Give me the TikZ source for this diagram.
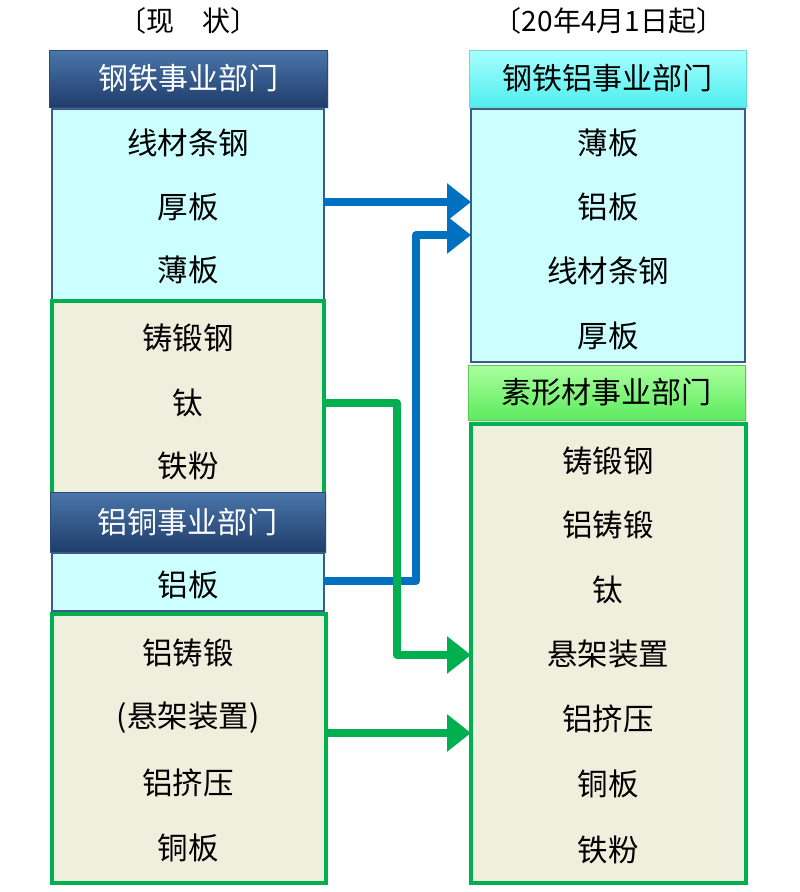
\documentclass[tikz,border=0pt]{standalone}
\usepackage{fontspec}
\setmainfont{Noto Sans CJK SC}
\usetikzlibrary{arrows.meta,shadows}
\definecolor{navytop}{HTML}{4A76AA}
\definecolor{navybot}{HTML}{1F3D6B}
\definecolor{navyline}{HTML}{2A4A78}
\definecolor{boxblue}{HTML}{CCFFFF}
\definecolor{boxblueline}{HTML}{3B5B8C}
\definecolor{beige}{HTML}{EEEFDC}
\definecolor{grn}{HTML}{00B050}
\definecolor{arrblue}{HTML}{0070C0}
\definecolor{cyantop}{HTML}{A8FFFF}
\definecolor{cyanbot}{HTML}{50EEEE}
\definecolor{cyanline}{HTML}{70D8D8}
\definecolor{gtop}{HTML}{AAFF9E}
\definecolor{gbot}{HTML}{5EEA5E}
\definecolor{gline}{HTML}{5CC85C}
\begin{document}
\begin{tikzpicture}[x=1pt,y=-1pt,
  every node/.style={inner sep=0pt, outer sep=0pt},
  txt/.style={font=\fontsize{30.5}{33}\selectfont, text=black},
  ttl/.style={font=\fontsize{28}{31}\selectfont, text=black},
  hdrnavy/.style={rectangle, draw=navyline, line width=1pt, top color=navytop, bottom color=navybot,
     text=white, font=\fontsize{30}{33}\selectfont,
     drop shadow={opacity=0.25, shadow xshift=2pt, shadow yshift=-2pt}},
  hdrcyan/.style={rectangle, draw=cyanline, line width=1pt, top color=cyantop, bottom color=cyanbot,
     text=black, font=\fontsize{30}{33}\selectfont,
     drop shadow={opacity=0.2, shadow xshift=2pt, shadow yshift=-2pt}},
  hdrgreen/.style={rectangle, draw=gline, line width=1pt, top color=gtop, bottom color=gbot,
     text=black, font=\fontsize{30}{33}\selectfont,
     drop shadow={opacity=0.2, shadow xshift=2pt, shadow yshift=-2pt}},
  bluebox/.style={rectangle, draw=boxblueline, line width=2.5pt, fill=boxblue},
  greenbox/.style={rectangle, draw=grn, line width=3.5pt, fill=beige},
  barrow/.style={draw=arrblue, line width=7.5pt, line join=round, -{Triangle[length=24pt,width=36pt]}},
  garrow/.style={draw=grn, line width=7.5pt, line join=round, -{Triangle[length=24pt,width=36pt]}}
]
\useasboundingbox (0,0) rectangle (800,892);

% titles
\node[ttl] (t1) at (188,21) {〔现　状〕};
\node[ttl] (t2) at (609,21) {〔20年4月1日起〕};

% left column
\node[bluebox, minimum width=272pt, minimum height=191pt] (lb1) at (188,204.5) {};
\node[greenbox, minimum width=272pt, minimum height=194pt] (lg1) at (188,398) {};
\node[hdrnavy, minimum width=278pt, minimum height=57pt] (lh1) at (188,78.5) {钢铁事业部门};
\node[hdrnavy, minimum width=275pt, minimum height=60pt] (lh2) at (187.5,522) {铝铜事业部门};
\node[bluebox, minimum width=272pt, minimum height=58pt] (lal) at (188,582) {};
\node[greenbox, minimum width=274pt, minimum height=269pt] (lg2) at (189,748.5) {};

\node[txt] (l1) at (188,143) {线材条钢};
\node[txt] (l2) at (188,207) {厚板};
\node[txt] (l3) at (188,270) {薄板};
\node[txt] (l4) at (188,338) {铸锻钢};
\node[txt] (l5) at (188,403) {钛};
\node[txt] (l6) at (188,466) {铁粉};
\node[txt] (l7) at (188,585) {铝板};
\node[txt] (l8) at (188,653) {铝铸锻};
\node[txt] (l9) at (188,718) {(悬架装置)};
\node[txt] (l10) at (188,783) {铝挤压};
\node[txt] (l11) at (188,848) {铜板};

% right column
\node[bluebox, minimum width=274pt, minimum height=253pt] (rb1) at (608,235.5) {};
\node[hdrcyan, minimum width=277pt, minimum height=57pt] (rh1) at (607.5,78.5) {钢铁铝事业部门};
\node[hdrgreen, minimum width=277pt, minimum height=55pt] (rh2) at (606.5,392.5) {素形材事业部门};
\node[greenbox, minimum width=275pt, minimum height=459pt] (rg) at (608.5,653.5) {};

\node[txt] (r1) at (608,143) {薄板};
\node[txt] (r2) at (608,207) {铝板};
\node[txt] (r3) at (608,271) {线材条钢};
\node[txt] (r4) at (608,336) {厚板};
\node[txt] (r5) at (608,461) {铸锻钢};
\node[txt] (r6) at (608,525) {铝铸锻};
\node[txt] (r7) at (608,590) {钛};
\node[txt] (r8) at (608,654) {悬架装置};
\node[txt] (r9) at (608,719) {铝挤压};
\node[txt] (r10) at (608,784) {铜板};
\node[txt] (r11) at (608,850) {铁粉};

% connectors
\coordinate (ya) at (0,202);
\coordinate (bb) at (416,235);
\coordinate (gb) at (397,655);
\coordinate (yg1) at (0,403);
\coordinate (yg2) at (0,733);
\coordinate (yal) at (0,581);

\draw[barrow] (lb1.east |- ya) -- (rb1.west |- ya);
\draw[barrow] (lal.east |- yal) -| (bb) -- (rb1.west |- bb);
\draw[garrow] (lg1.east |- yg1) -| (gb) -- (rg.west |- gb);
\draw[garrow] (lg2.east |- yg2) -- (rg.west |- yg2);
\end{tikzpicture}
\end{document}
